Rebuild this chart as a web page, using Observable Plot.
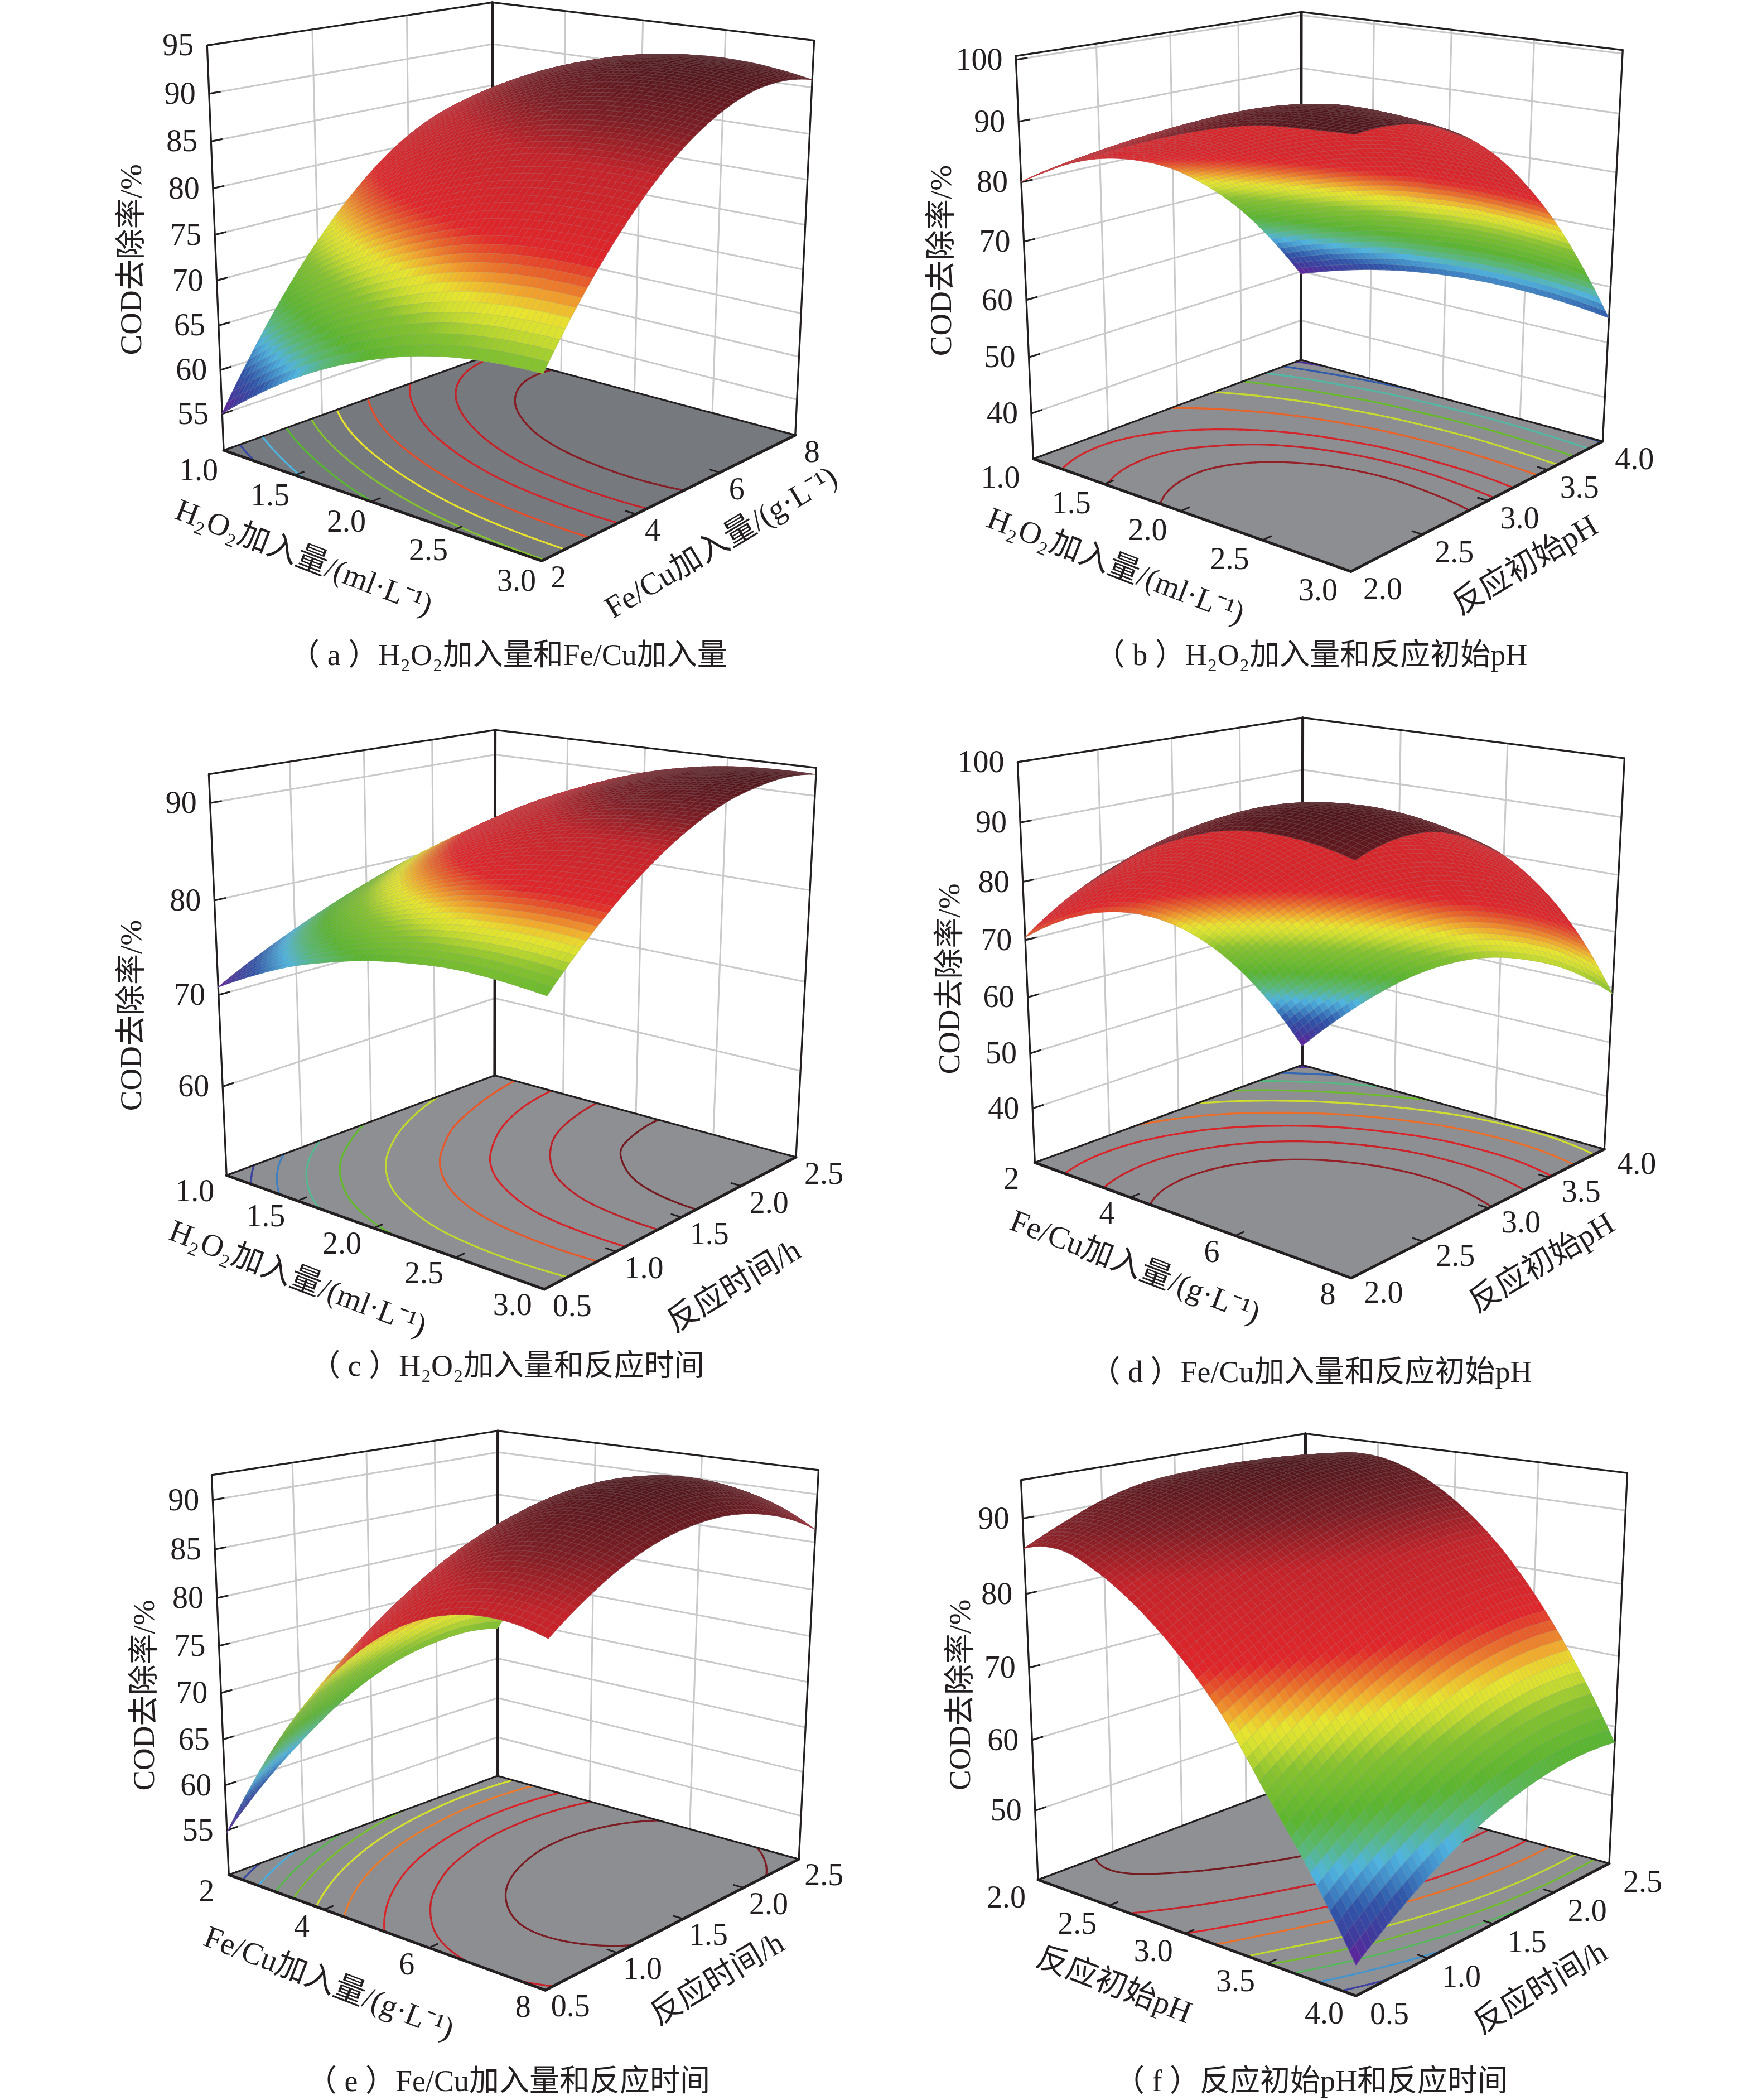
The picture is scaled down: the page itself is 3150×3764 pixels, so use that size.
<!DOCTYPE html>
<html><head><meta charset="utf-8">
<script src="https://cdn.jsdelivr.net/npm/d3@7"></script>
<script src="https://cdn.jsdelivr.net/npm/@observablehq/plot@0.6"></script>
<style>html,body{margin:0;padding:0;background:#fff}svg{display:block}</style>
</head><body><div id="chart"></div>
<script>
// COD removal (%) at 9 x 9 grid nodes: rows = first factor, columns = second factor
const surfaceA = [
[55,61.9,67.9,72.9,77,80.2,82.4,83.7,84],
[58.4,65.2,71.1,76,79.9,83,85.1,86.3,86.5],
[61.4,68,73.8,78.6,82.4,85.3,87.3,88.4,88.5],
[63.9,70.4,76,80.7,84.4,87.2,89.1,90,90],
[65.9,72.3,77.8,82.4,86,88.7,90.4,91.2,91.1],
[67.5,73.8,79.2,83.6,87.1,89.7,91.3,92,91.7],
[68.6,74.8,80,84.3,87.7,90.2,91.7,92.2,91.9],
[69.2,75.3,80.4,84.6,87.9,90.2,91.6,92.1,91.6],
[69.4,75.4,80.4,84.5,87.6,89.8,91.1,91.4,90.8]];
const surfaceB = [
[80,81.2,81,79.3,76.3,71.7,65.8,58.3,49.5],
[83.6,84.7,84.4,82.6,79.3,74.5,68.4,60.7,51.7],
[86.8,88,87.8,85.7,82.2,77.1,70.6,62.6,53.5],
[89.7,91,90.9,88.9,84.9,79.3,72.3,64.3,54.8],
[92.3,93.7,93.5,91.4,87.1,81,73.8,65.2,55.6],
[94.5,95.9,95.5,93.3,88.6,82.3,74.6,65.9,56],
[96.1,97.1,96.6,94,89.3,82.6,75,66.1,55.9],
[96.7,97.4,96.4,93.8,88.9,82.6,74.7,65.7,55.4],
[97.1,97.1,95.7,92.7,88.1,81.8,74.1,64.8,54.4]];
const surfaceC = [
[70.8,73,74.9,76.6,78.1,79.4,80.4,81.3,81.9],
[73,75.4,77.5,79.3,80.9,82.2,83.2,84,84.5],
[74.9,77.4,79.7,81.7,83.3,84.7,85.7,86.4,86.7],
[76.3,79.1,81.6,83.7,85.4,86.7,87.7,88.3,88.6],
[77.4,80.4,83.1,85.3,87.1,88.4,89.4,89.9,90.1],
[78.1,81.4,84.2,86.5,88.4,89.7,90.7,91.1,91.2],
[78.5,81.9,84.9,87.4,89.3,90.7,91.6,92,91.9],
[78.4,82.1,85.2,87.8,89.8,91.3,92.2,92.5,92.2],
[78,81.9,85.2,87.9,90,91.5,92.3,92.6,92.2]];
const surfaceD = [
[70.4,71.8,71.5,69.5,65.8,60.4,53.3,44.5,34],
[77.4,78.9,78.6,76.6,73,67.6,60.5,51.7,41.2],
[83.3,84.7,84.5,82.5,78.9,73.5,66.6,58,47.7],
[88.2,90,89.8,87.7,83.9,78.5,71.6,63.2,53.3],
[91.9,93.8,93.8,91.7,87.7,82.2,75.3,67.2,57.6],
[94.5,96.4,96.3,94.2,90.1,84.7,77.9,69.9,60.5],
[95.6,97.5,97.3,95.3,91.2,85.8,79,71,61.7],
[95.4,97.1,97,94.9,90.9,85.6,78.9,70.9,61.4],
[94,95.6,95.4,93.2,89.4,84,77.2,68.9,58.9]];
const surfaceE = [
[54.7,58.8,62.1,64.9,67,68.4,69.1,69.3,68.7],
[62.6,66.5,69.7,72.3,74.2,75.4,76.1,76,75.3],
[69.3,73,76.1,78.5,80.2,81.3,81.7,81.5,80.6],
[74.7,78.2,81.1,83.4,84.9,85.9,86.1,85.7,84.7],
[78.9,82.2,85,87,88.4,89.2,89.3,88.7,87.5],
[81.8,85,87.5,89.4,90.7,91.3,91.2,90.5,89.1],
[83.4,86.5,88.9,90.6,91.7,92.1,91.9,91,89.4],
[83.8,86.7,88.9,90.5,91.4,91.7,91.3,90.2,88.5],
[83,85.7,87.8,89.2,89.9,90,89.4,88.2,86.3]];
const surfaceF = [
[86,88.4,90.4,91.7,92.2,92.3,92,91.3,90.3],
[86.8,88.9,90.6,92,92.9,93.5,93.6,93.3,92.7],
[84.8,87.1,89,90.6,91.9,92.8,93.3,93.3,92.9],
[81.3,83.8,85.9,87.7,89.3,90.5,91.2,91.5,91.3],
[76.5,79.2,81.5,83.5,85.3,86.7,87.6,88.1,88.1],
[70.3,73.2,75.9,78.2,80.2,81.7,82.8,83.3,83.3],
[62,65.6,68.8,71.4,73.5,75.1,76.1,76.7,76.6],
[53.6,57.3,60.5,63.1,65.2,66.8,67.8,68.2,68.1],
[43.9,47.6,50.8,53.4,55.4,56.8,57.7,58,57.7]];

// floor contour levels (%)
const levelsA = [58,62,66,69.8,73.3,77,81,84.5,88];
const levelsB = [51,55,60,65.5,71,77,83,87,91];
const levelsC = [72.4,74,75.8,77.8,80.5,83.5,86,88.5,90.8];
const levelsD = [36,42,49,56,63,70,76.5,83,89];
const levelsE = [58,61.5,65,68.3,71.9,75.6,79.7,83.6,88.5];
const levelsF = [47,52,57,61.5,66,72,76.5,83,89.5];

// tick labels
const ticksH2O2 = ["1.0","1.5","2.0","2.5","3.0"];
const ticksFeCu = ["2","4","6","8"];
const ticksPH = ["2.0","2.5","3.0","3.5","4.0"];
const ticksTime = ["0.5","1.0","1.5","2.0","2.5"];
const ticksZA = [55,60,65,70,75,80,85,90,95];
const ticksZB = [40,50,60,70,80,90,100];
const ticksZC = [60,70,80,90];
const ticksZD = [40,50,60,70,80,90,100];
const ticksZE = [55,60,65,70,75,80,85,90];
const ticksZF = [50,60,70,80,90];

// axis titles and captions
const titleH2O2 = "H₂O₂加入量/(ml·L⁻¹)";
const titleFeCu = "Fe/Cu加入量/(g·L⁻¹)";
const titlePH = "反应初始pH";
const titleTime = "反应时间/h";
const titleZ = "COD去除率/%";
const captions = ["（ a ）H₂O₂加入量和Fe/Cu加入量","（ b ）H₂O₂加入量和反应初始pH","（ c ）H₂O₂加入量和反应时间","（ d ）Fe/Cu加入量和反应初始pH","（ e ）Fe/Cu加入量和反应时间","（ f ）反应初始pH和反应时间"];

// colour ramp (position within each surface's own range)
const rampStops = [0,.05,.11,.19,.24,.3,.4,.46,.49,.53,.57,.62,.8,.9,1];
const rampColors = ["#6a1f9c","#41389c","#2f55a8","#4fb5e0","#58b87a","#5ab52f","#86c22f","#d4e02f","#e8e52f","#f2a92d","#e9692a","#e1262a","#c4232a","#7c1d24","#4f161b"];
const shadeColor = "#4f181c";

// drawing layout, original-image pixels: seven visible cube corners and label offsets
const layouts = [
 {L0:[400,802],F0:[971,1009],R0:[1425,775],B0:[882,639],L1:[371,82],B1:[882,2],R1:[1459,73],floor:"#76797e",
  uLab:[-10,36],vLab:[16,30],uOff:[-121,100],uRot:21,vOff:[75,89],vRot:-31,zOff:[-151,10],cap:[911,1174]},
 {L0:[1852,820],F0:[2421,1026],R0:[2873,788],B0:[2332,647],L1:[1821,100],B1:[2332,20],R1:[2909,90],floor:"#8c8e92",
  uLab:[-24,34],vLab:[22,32],uOff:[-116,98],uRot:21,vOff:[67,115],vRot:-31,zOff:[-150,-6],cap:[2350,1174]},
 {L0:[405,2104],F0:[976,2312],R0:[1426,2072],B0:[887,1929],L1:[374,1388],B1:[887,1307],R1:[1463,1376],floor:"#8d8f93",
  uLab:[-22,28],vLab:[15,30],uOff:[-136,90],uRot:21,vOff:[94,123],vRot:-31,zOff:[-155,61],cap:[909,2448]},
 {L0:[1854,2083],F0:[2423,2290],R0:[2875,2060],B0:[2335,1908],L1:[1824,1366],B1:[2335,1286],R1:[2912,1358],floor:"#8e8f93",
  uLab:[-28,29],vLab:[23,26],uOff:[-83,91],uRot:21,vOff:[95,98],vRot:-31,zOff:[-138,18],cap:[2350,2459]},
 {L0:[409,3359],F0:[978,3567],R0:[1431,3332],B0:[892,3183],L1:[379,2644],B1:[892,2564],R1:[1467,2634],floor:"#8d8e92",
  uLab:[-26,30],vLab:[10,29],uOff:[-83,98],uRot:21,vOff:[61,107],vRot:-31,zOff:[-137,25],cap:[911,3730]},
 {L0:[1861,3369],F0:[2430,3577],R0:[2885,3339],B0:[2340,3189],L1:[1830,2652],B1:[2340,2569],R1:[2917,2640],floor:"#8f9094",
  uLab:[-22,32],vLab:[25,33],uOff:[-127,92],uRot:21,vOff:[84,114],vRot:-31,zOff:[-125,16],cap:[2350,3730]}
];

const panels = [
 {grid:surfaceA,levels:levelsA,uT:ticksH2O2,vT:ticksFeCu,zT:ticksZA,zDom:[50.8,95],uTitle:titleH2O2,vTitle:titleFeCu},
 {grid:surfaceB,levels:levelsB,uT:ticksH2O2,vT:ticksPH,zT:ticksZB,zDom:[31.8,100.6],uTitle:titleH2O2,vTitle:titlePH},
 {grid:surfaceC,levels:levelsC,uT:ticksH2O2,vT:ticksTime,zT:ticksZC,zDom:[50,92.9],uTitle:titleH2O2,vTitle:titleTime},
 {grid:surfaceD,levels:levelsD,uT:ticksFeCu,vT:ticksPH,zT:ticksZD,zDom:[30,100],uTitle:titleFeCu,vTitle:titlePH},
 {grid:surfaceE,levels:levelsE,uT:ticksFeCu,vT:ticksTime,zT:ticksZE,zDom:[50,92.5],uTitle:titleFeCu,vTitle:titleTime},
 {grid:surfaceF,levels:levelsF,uT:ticksPH,vT:ticksTime,zT:ticksZF,zDom:[40,95],uTitle:titlePH,vTitle:titleTime}
];

// perspective camera fitted to the visible corners (least squares)
function fitCamera(l){
  const pts=[[0,0,0,l.L0],[1,0,0,l.F0],[1,1,0,l.R0],[0,1,0,l.B0],[0,0,1,l.L1],[0,1,1,l.B1],[1,1,1,l.R1]];
  const cx=d3.mean(pts,p=>p[3][0]),cy=d3.mean(pts,p=>p[3][1]),S=1000;
  const A=[],b=[];
  for(const [X,Y,Z,[px,py]] of pts){
    const x=(px-cx)/S,y=(py-cy)/S;
    A.push([X,Y,Z,1,0,0,0,0,-x*X,-x*Y,-x*Z]);b.push(x);
    A.push([0,0,0,0,X,Y,Z,1,-y*X,-y*Y,-y*Z]);b.push(y);
  }
  const n=11,M=d3.range(n).map(i=>d3.range(n+1).map(j=>{
    if(j<n) return d3.sum(A,r=>r[i]*r[j]);
    return d3.sum(A,(r,k)=>r[i]*b[k]);
  }));
  for(let c=0;c<n;c++){
    let p=c;for(let r=c+1;r<n;r++) if(Math.abs(M[r][c])>Math.abs(M[p][c])) p=r;
    [M[c],M[p]]=[M[p],M[c]];
    for(let r=0;r<n;r++) if(r!==c){const f=M[r][c]/M[c][c];for(let k=c;k<=n;k++) M[r][k]-=f*M[c][k];}
  }
  const h=M.map((r,i)=>r[n]/r[i]);
  return (u,v,w)=>{
    const d=h[8]*u+h[9]*v+h[10]*w+1;
    return [cx+S*(h[0]*u+h[1]*v+h[2]*w+h[3])/d, cy+S*(h[4]*u+h[5]*v+h[6]*w+h[7])/d];
  };
}

// smooth shading between the read nodes (Catmull-Rom, same idea as the curve option of a line mark)
const cr=(p0,p1,p2,p3,t)=>p1+.5*t*(p2-p0+t*(2*p0-5*p1+4*p2-p3+t*(3*p1-p0-3*p2+p3)));
function fineTable(g,SUB){
  const N=g.length-1,F=N*SUB;
  const ext=a=>[3*a[0]-3*a[1]+a[2],...a,3*a[N]-3*a[N-1]+a[N-2]];
  const rows=g.map(ext);
  const E=d3.range(N+3).map(j=>ext(rows.map(r=>r[j])));   // E[column][row], both offset by 1
  const out=[];
  for(let a=0;a<=F;a++){
    const i=Math.min(Math.floor(a/SUB),N-1),s=a/SUB-i,row=[];
    for(let b=0;b<=F;b++){
      const j=Math.min(Math.floor(b/SUB),N-1),t=b/SUB-j;
      const q=[0,1,2,3].map(k=>{const c=E[j+k];return cr(c[i],c[i+1],c[i+2],c[i+3],s);});
      row.push(cr(q[0],q[1],q[2],q[3],t));
    }
    out.push(row);
  }
  return out;
}

const colorOf=d3.scaleLinear().domain(rampStops).range(rampColors).interpolate(d3.interpolateRgb).clamp(true);
const smooth=(a,b,x)=>{const t=Math.max(0,Math.min(1,(x-a)/(b-a)));return t*t*(3-2*t);};
const cross=(A,B,C,D)=>(C[0]-A[0])*(D[1]-B[1])-(C[1]-A[1])*(D[0]-B[0]);
const SUB=7;            // shading cells per grid interval
const cells=[],floors=[],contours=[],grids=[],frameThin=[],frameThick=[],ticks=[];
const uLabels=[],vLabels=[],zLabels=[],uTitles=[],vTitles=[],zTitles=[],capRows=[];
const quad=(rows,A,B,C,D,extra)=>{rows.push({x1:A[0],y1:A[1],x2:D[0],y2:D[1],...extra},{x1:B[0],y1:B[1],x2:C[0],y2:C[1],...extra});};
const seg=(rows,a,b,extra)=>rows.push({x1:a[0],y1:a[1],x2:b[0],y2:b[1],...extra});

panels.forEach((pn,pi)=>{
  const l=layouts[pi],P=fitCamera(l),g=pn.grid,N=g.length-1,F=N*SUB;
  const [zlo,zhi]=d3.extent(g.flat());
  const W=z=>(z-pn.zDom[0])/(pn.zDom[1]-pn.zDom[0]);
  const T=z=>Math.max(0,Math.min(1,(z-zlo)/(zhi-zlo)));
  const Z=fineTable(g,SUB);
  const uPos=s=>pn.uT.indexOf(s)/(pn.uT.length-1),vPos=s=>pn.vT.indexOf(s)/(pn.vT.length-1);

  quad(floors,P(0,0,0),P(1,0,0),P(1,1,0),P(0,1,0),{id:"f"+pi,fill:l.floor});

  // back walls
  pn.vT.forEach(s=>{const v=vPos(s);seg(grids,P(0,v,0),P(0,v,1));});
  pn.uT.forEach(s=>{const u=uPos(s);seg(grids,P(u,1,0),P(u,1,1));});
  pn.zT.forEach(z=>{const w=W(z);
    seg(grids,P(0,0,w),P(0,1,w));seg(grids,P(0,1,w),P(1,1,w));
    seg(ticks,P(0,0,w),P(0,.035,w));
    const p=P(0,0,w);zLabels.push({x:p[0],y:p[1],text:String(z)});
  });

  // frame
  seg(frameThick,P(0,0,0),P(1,0,0));seg(frameThick,P(1,0,0),P(1,1,0));seg(frameThick,P(0,1,0),P(0,1,1));
  seg(frameThin,P(0,0,0),P(0,1,0));seg(frameThin,P(0,1,0),P(1,1,0));
  seg(frameThin,P(0,0,0),P(0,0,1));seg(frameThin,P(1,1,0),P(1,1,1));
  seg(frameThin,P(0,0,1),P(0,1,1));seg(frameThin,P(0,1,1),P(1,1,1));

  // axis ticks and labels
  pn.uT.forEach(s=>{const u=uPos(s),p=P(u,0,0);seg(ticks,p,P(u,.03,0));uLabels.push({x:p[0]+l.uLab[0],y:p[1]+l.uLab[1],text:s});});
  pn.vT.forEach(s=>{const v=vPos(s),p=P(1,v,0);seg(ticks,p,P(.97,v,0));vLabels.push({x:p[0]+l.vLab[0],y:p[1]+l.vLab[1],text:s});});
  const um=P(.5,0,0),vm=P(1,.5,0),zm=P(0,0,.5);
  uTitles.push({x:um[0]+l.uOff[0],y:um[1]+l.uOff[1],text:pn.uTitle,r:l.uRot});
  vTitles.push({x:vm[0]+l.vOff[0],y:vm[1]+l.vOff[1],text:pn.vTitle,r:l.vRot});
  zTitles.push({x:zm[0]+l.zOff[0],y:zm[1]+l.zOff[1],text:titleZ});
  capRows.push({x:l.cap[0],y:l.cap[1],text:captions[pi]});

  // contour lines on the floor (marching squares over the shading cells)
  for(const L of pn.levels){
    const col=colorOf(T(L));
    for(let a=0;a<F;a++) for(let b=0;b<F;b++){
      const c=[[a,b],[a+1,b],[a+1,b+1],[a,b+1]],z=c.map(q=>Z[q[0]][q[1]]),hits=[];
      for(let e=0;e<4;e++){const f=(e+1)%4;
        if((z[e]<L)!==(z[f]<L)){const s=(L-z[e])/(z[f]-z[e]);
          hits.push(P((c[e][0]+s*(c[f][0]-c[e][0]))/F,(c[e][1]+s*(c[f][1]-c[e][1]))/F,0));}
      }
      for(let h=0;h+1<hits.length;h+=2) seg(contours,hits[h],hits[h+1],{col});
    }
  }

  // surface cells, far corner first; the underside stays bright red, darkening only towards its silhouette
  for(let a=0;a<F;a++) for(let b=F-1;b>=0;b--){
    const z00=Z[a][b],z10=Z[a+1][b],z11=Z[a+1][b+1],z01=Z[a][b+1];
    const t=T((z00+z10+z11+z01)/4);
    const A=P(a/F,b/F,W(z00)),B=P((a+1)/F,b/F,W(z10)),C=P((a+1)/F,(b+1)/F,W(z11)),D=P(a/F,(b+1)/F,W(z01));
    const rho=cross(A,B,C,D)/cross(P(a/F,b/F,0),P((a+1)/F,b/F,0),P((a+1)/F,(b+1)/F,0),P(a/F,(b+1)/F,0));
    const fill=rho>=0?colorOf(t):d3.interpolateRgb(colorOf(Math.min(t,.68)),shadeColor)((1-smooth(0,.35,-rho))*smooth(.6,.72,t));
    quad(cells,A,B,C,D,{id:pi+"-"+a+"-"+b,fill,mesh:d3.interpolateRgb(fill,"#9a9ea3")(.25)});
  }
});

const FONT='"Liberation Serif","Noto Sans CJK SC",serif',INK="#231f20";
const area=(rows,o)=>Plot.area(rows,{x1:"x1",y1:"y1",x2:"x2",y2:"y2",z:"id",...o});
const link=(rows,o)=>Plot.link(rows,{x1:"x1",y1:"y1",x2:"x2",y2:"y2",...o});
const label=(rows,o)=>Plot.text(rows,{x:"x",y:"y",text:"text",fill:INK,fontFamily:FONT,...o});

const chart=Plot.plot({
  width:3150,height:3764,margin:0,
  x:{domain:[0,3150],range:[0,3150],axis:null},
  y:{domain:[0,3764],range:[0,3764],axis:null},
  style:{background:"#fff",fontFamily:FONT},
  marks:[
    area(floors,{fill:"fill"}),
    link(grids,{stroke:"#c9c9c9",strokeWidth:3}),
    link(contours,{stroke:"col",strokeWidth:3.2,strokeLinecap:"round"}),
    link(frameThin,{stroke:INK,strokeWidth:3.2,strokeLinecap:"round"}),
    link(frameThick,{stroke:INK,strokeWidth:5,strokeLinecap:"round"}),
    link(ticks,{stroke:INK,strokeWidth:3}),
    area(cells,{fill:"fill",stroke:"mesh",strokeWidth:1.1}),
    label(uLabels,{fontSize:56,textAnchor:"end"}),
    label(vLabels,{fontSize:56,textAnchor:"start"}),
    label(zLabels,{fontSize:56,textAnchor:"end",dx:-24}),
    label(uTitles,{fontSize:56,rotate:"r"}),
    label(vTitles,{fontSize:56,rotate:"r"}),
    label(zTitles,{fontSize:55,rotate:-90}),
    label(capRows,{fontSize:54})
  ]
});
document.getElementById("chart").append(chart);
</script></body></html>
